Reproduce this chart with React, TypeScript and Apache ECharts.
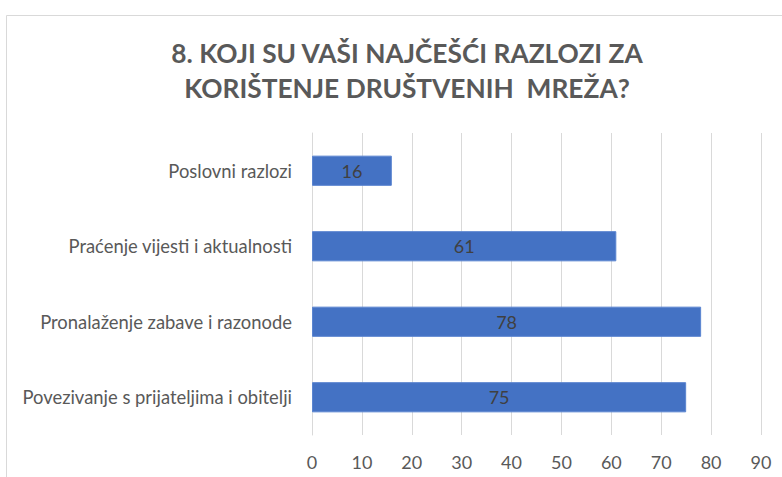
import React, { useEffect, useRef } from "react";
import * as echarts from "echarts";

const categories = [
  "Poslovni razlozi",
  "Praćenje vijesti i aktualnosti",
  "Pronalaženje zabave i razonode",
  "Povezivanje s prijateljima i obitelji",
];
const values = [16, 61, 78, 75];
const titleText = "8. KOJI SU VAŠI NAJČEŠĆI RAZLOZI ZA\nKORIŠTENJE DRUŠTVENIH  MREŽA?";

export default function App() {
  const ref = useRef<HTMLDivElement>(null);
  useEffect(() => {
    const chart = echarts.init(ref.current!, null, { renderer: "svg" });
    chart.setOption({
      animation: false,
      backgroundColor: "#ffffff",
      graphic: [
        {
          type: "rect",
          shape: { x: 6.5, y: 15.5, width: 900, height: 600 },
          style: { fill: "none", stroke: "#d9d9d9", lineWidth: 1 },
          silent: true,
        },
      ],
      title: {
        text: titleText,
        left: 402,
        top: 30,
        textAlign: "center",
        textStyle: {
          fontFamily: "Lato",
          fontWeight: "bold",
          fontSize: 26.3,
          lineHeight: 35.5,
          color: "#595959",
        },
      },
      grid: { left: 312, right: 21, top: 133, bottom: 42 },
      xAxis: {
        type: "value",
        min: 0,
        max: 90,
        interval: 10,
        axisLine: { show: false },
        axisTick: { show: false },
        splitLine: { lineStyle: { color: "#d9d9d9", width: 1 } },
        axisLabel: { fontFamily: "Lato", fontSize: 18, color: "#595959", margin: 18 },
      },
      yAxis: {
        type: "category",
        data: categories,
        inverse: true,
        axisTick: { show: false },
        axisLine: { show: true, lineStyle: { color: "#d9d9d9" } },
        axisLabel: { fontFamily: "Lato", fontSize: 18.4, color: "#595959", margin: 20 },
      },
      series: [
        {
          type: "bar",
          data: values,
          barCategoryGap: "60%",
          itemStyle: { color: "#4472C4", borderColor: "#5b85d0", borderWidth: 1 },
          label: {
            show: true,
            position: "inside",
            fontFamily: "Lato",
            fontSize: 18,
            color: "#404040",
          },
        },
      ],
    });
    return () => chart.dispose();
  }, []);
  return (
    <div
      ref={ref}
      style={{ position: "absolute", left: 0, top: 0, width: 782, height: 477 }}
    />
  );
}
